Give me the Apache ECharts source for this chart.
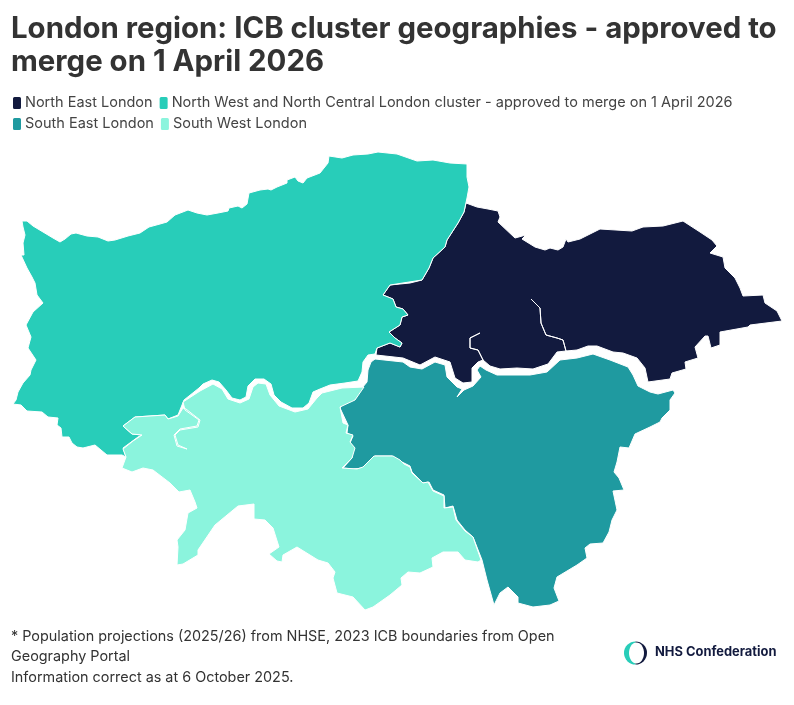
<!DOCTYPE html>
<html>
<head>
<meta charset="utf-8">
<title>London region ICB clusters</title>
<style type="text/css">
	html,body{margin:0;padding:0;background:#fff;}
	#main{width:794px;height:705px;}
</style>
</head>
<body>
<div id="main"></div>
<script src="https://cdn.jsdelivr.net/npm/echarts@6/dist/echarts.min.js"></script>
<script type="text/javascript">
var titleText = "London region: ICB cluster geographies - approved to\nmerge on 1 April 2026";
var footText = "* Population projections (2025/26) from NHSE, 2023 ICB boundaries from Open\nGeography Portal\nInformation correct as at 6 October 2025.";
var logoText = "NHS Confederation";

var regionNames = ["North East London", "North West and North Central London cluster - approved to merge on 1 April 2026", "South East London", "South West London"];
var regionColors = ["#121A3E", "#28CDB9", "#1F9AA0", "#8BF4DD"];

// boundaries, one ring per cluster
var neBoundary = [[466,203],[477,207],[488,209],[498,211],[500,217],[498,222],[515,238],[526,235],[522,239],[535,247],[545,250],[550,248],[558,250],[563,247],[566,239],[568,242],[580,239],[588,235],[600,229],[632,231],[643,227],[663,226],[683,221],[700,232],[712,240],[717,246],[710,253],[723,257],[725,268],[735,278],[740,288],[743,296],[763,295],[765,303],[777,311],[782,321],[750,325],[748,327],[720,332],[720,345],[711,348],[708,336],[705,336],[695,347],[698,358],[685,362],[686,369],[672,373],[670,379],[648,382],[645,368],[637,358],[623,353],[613,352],[597,346],[588,346],[577,350],[566,351],
	// Roding slit
	[563,340],[557,338],[546,335],[541,323],[540,308],[531,299],[540,308],[541,323],[546,335],[557,338],[563,340],[566,351],
	[557,352],[548,364],[533,369],[517,368],[500,369],[490,366],[483,360],
	// Lea slit
	[478,350],[470,348],[470,338],[480,333],[470,338],[470,348],[478,350],[483,360],
	[478,362],[472,368],[472,382],[463,383],[455,378],[450,362],[435,357],[420,365],[403,358],[376,355],[377,348],[390,343],[400,347],[402,343],[395,338],[389,332],[400,325],[402,317],[408,315],[403,309],[396,307],[393,299],[383,295],[390,285],[410,283],[422,280],[429,268],[433,258],[445,247],[447,240],[458,223],[464,212]];
var nwBoundary = [[22,221],[27,221],[33,226],[43,232],[53,238],[60,242],[65,239],[71,234],[76,233],[87,236],[98,237],[108,241],[115,240],[128,236],[140,233],[149,227],[160,224],[167,222],[175,215],[188,210],[197,213],[207,215],[218,213],[228,211],[229,208],[238,206],[242,208],[247,204],[249,193],[260,190],[268,189],[271,190],[277,187],[287,183],[287,180],[295,177],[298,181],[303,183],[307,178],[320,173],[328,163],[329,156],[342,158],[353,155],[368,154],[378,152],[397,154],[417,161],[433,160],[450,163],[467,164],[467,177],[469,187],[467,198],[464,212],[458,223],[447,240],[445,247],[433,258],[429,268],[422,280],[390,285],[383,295],[393,299],[396,307],[403,309],[408,315],[402,317],[400,325],[389,332],[395,338],[402,343],[400,347],[390,343],[377,348],[375,354],[368,355],[363,362],[362,372],[358,381],[345,383],[330,385],[320,389],[313,392],[309,403],[303,408],[292,408],[281,402],[274,395],[271,384],[264,379],[255,379],[248,386],[246,397],[240,400],[232,398],[226,390],[219,382],[212,380],[203,384],[199,388],[184,400],[178,415],[168,419],[165,415],[150,416],[135,417],[123,426],[132,434],[142,435],[138,437],[123,448],[126,457],[122,455],[107,455],[95,445],[83,448],[77,447],[72,443],[69,437],[62,437],[61,428],[57,425],[58,418],[48,417],[42,412],[27,411],[21,405],[13,404],[16,400],[18,392],[23,383],[30,375],[31,370],[36,360],[28,348],[31,337],[26,325],[33,312],[43,303],[37,295],[35,283],[32,277],[27,268],[21,255],[24,255],[23,243],[25,235],[23,227]];
var seBoundary = [[371,362],[375,359],[403,362],[410,367],[422,369],[435,362],[445,365],[447,377],[457,387],[462,389],[457,397],[464,390],[473,386],[481,377],[477,370],[480,366],[486,370],[497,375],[530,375],[547,372],[560,360],[577,358],[593,354],[610,360],[628,367],[633,375],[638,386],[650,392],[658,394],[673,390],[675,393],[670,400],[670,410],[662,418],[660,422],[650,427],[635,434],[629,448],[620,447],[617,462],[614,472],[619,478],[624,490],[613,491],[617,510],[612,520],[609,532],[603,543],[590,544],[585,548],[587,558],[577,565],[557,577],[554,588],[559,601],[550,605],[533,607],[518,603],[518,597],[508,587],[500,593],[494,605],[487,580],[482,560],[473,537],[465,530],[457,520],[453,506],[445,508],[444,495],[433,490],[429,482],[423,483],[412,472],[410,466],[404,463],[398,460],[392,456],[375,456],[363,468],[353,469],[343,468],[352,458],[353,447],[350,443],[353,436],[347,433],[348,425],[340,408],[342,405],[355,399],[362,388],[367,382],[368,370]];
var swBoundary = [[183,402],[200,391],[213,384],[222,389],[228,399],[240,403],[249,399],[253,387],[258,383],[266,384],[270,395],[279,406],[295,412],[308,409],[317,398],[322,393],[342,388],[364,387],[355,400],[340,407],[343,423],[348,425],[346,433],[353,435],[350,442],[355,448],[352,458],[342,468],[357,469],[363,467],[374,456],[393,456],[400,460],[404,464],[410,467],[412,473],[423,483],[428,482],[433,491],[444,496],[444,508],[453,507],[456,520],[465,531],[473,537],[481,560],[478,562],[465,560],[458,552],[443,552],[432,558],[433,567],[420,573],[408,572],[401,578],[402,585],[390,595],[373,607],[365,610],[353,597],[337,593],[333,578],[335,572],[328,563],[318,560],[297,547],[283,555],[282,562],[277,561],[269,554],[279,547],[273,528],[265,520],[254,519],[254,504],[238,506],[215,525],[198,550],[198,555],[183,564],[177,565],[178,547],[177,540],[185,530],[188,513],[197,508],[195,502],[190,490],[179,492],[170,483],[153,470],[143,468],[132,472],[122,468],[126,457],[123,449],[133,441],[142,435],[132,434],[123,426],[135,417],[150,416],[165,415],[168,419],[178,416],[183,408],
	// river slit, out and back
	[186,409],[200,420],[198,427],[180,430],[175,435],[178,445],[187,449],[177,446],[174,435],[180,429],[197,426],[199,420],[185,410]];
var boundaries = [neBoundary, nwBoundary, seBoundary, swBoundary];

var fontName = "Inter";

// a map series only gets a legend entry by series name, so one map per cluster
var seriesList = regionNames.map(function(name, i){
	var mapName = "london" + i;
	echarts.registerMap(mapName, {
		type: "FeatureCollection",
		features: [{type: "Feature", properties: {name: name}, geometry: {type: "Polygon", coordinates: [boundaries[i]]}}]
	});
	var xs = boundaries[i].map(function(p){ return p[0]; });
	var ys = boundaries[i].map(function(p){ return p[1]; });
	var minX = Math.min.apply(null, xs), maxX = Math.max.apply(null, xs);
	var minY = Math.min.apply(null, ys), maxY = Math.max.apply(null, ys);
	return {
		type: "map",
		name: name,
		map: mapName,
		silent: true,
		roam: false,
		showLegendSymbol: false,
		left: minX, top: minY,
		width: maxX - minX, height: maxY - minY,
		projection: {
			project: function(p){ return [p[0], p[1]]; },
			unproject: function(p){ return [p[0], p[1]]; }
		},
		label: {show: false},
		itemStyle: {color: regionColors[i], areaColor: regionColors[i], borderColor: "#fff", borderWidth: 1},
		data: [{name: name, value: i + 1}]
	};
});

var myChart = echarts.init(document.getElementById("main"), null, {renderer: "canvas"});

var option = {
	backgroundColor: "#fff",
	animation: false,
	title: [
		{text: titleText, left: 11, top: 13, padding: 0, textStyle: {fontFamily: fontName, fontSize: 29.4, fontWeight: 700, color: "#333333", lineHeight: 33}},
		{text: footText, left: 11, top: 626, padding: 0, textStyle: {fontFamily: fontName, fontSize: 14.4, fontWeight: 400, color: "#333333", lineHeight: 20.5}}
	],
	legend: {
		left: 11, top: 95, width: 770, padding: 0,
		itemWidth: 10, itemHeight: 14, itemGap: 5,
		icon: "roundRect", symbolKeepAspect: false, selectedMode: false,
		data: regionNames,
		textStyle: {fontFamily: fontName, fontSize: 14.5, color: "#444444", lineHeight: 14, padding: [0, 0, 0, -2]}
	},
	series: seriesList,
	graphic: [
		{type: "sector", shape: {cx: 635.5, cy: 653, r: 11.5, r0: 0, startAngle: Math.PI / 2, endAngle: Math.PI * 1.5}, style: {fill: "#28CDB9"}},
		{type: "sector", shape: {cx: 635.5, cy: 653, r: 11.5, r0: 0, startAngle: -Math.PI / 2, endAngle: Math.PI / 2}, style: {fill: "#121A3E"}},
		{type: "ellipse", shape: {cx: 636.5, cy: 653, rx: 7.5, ry: 10.5}, style: {fill: "#fff"}},
		{type: "text", left: 655, top: 646, style: {text: logoText, fill: "#121A3E", font: "700 12.9px " + fontName}}
	]
};
myChart.setOption(option);
</script>
</body>
</html>
